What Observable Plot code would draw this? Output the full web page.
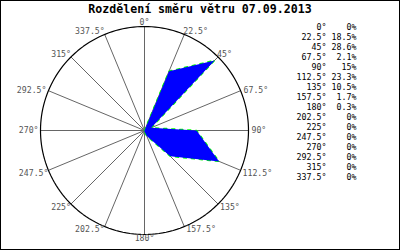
<!DOCTYPE html>
<html><head><meta charset="utf-8">
<script src="https://cdn.jsdelivr.net/npm/d3@7"></script>
<script src="https://cdn.jsdelivr.net/npm/@observablehq/plot@0.6"></script>
<style>
body{margin:0;background:#fff}
#wrap{position:relative;width:400px;height:250px;overflow:hidden;background:#fff}
#wrap svg{position:absolute;top:0;left:0;background:transparent}
#title{position:absolute;left:0;top:2px;width:400px;text-align:center;font:bold 11.6px "DejaVu Sans Mono",monospace;line-height:14px;color:#000}
#border{position:absolute;left:0;top:0;width:400px;height:250px;border:1px solid #000;box-sizing:border-box;pointer-events:none}
</style></head><body>
<div id="wrap"></div>
<script>
const titleText = "Rozdělení směru větru 07.09.2013";
const directions = [0, 22.5, 45, 67.5, 90, 112.5, 135, 157.5, 180, 202.5, 225, 247.5, 270, 292.5, 315, 337.5];
const percents = [0, 18.5, 28.6, 2.1, 15, 23.3, 10.5, 1.7, 0.3, 0, 0, 0, 0, 0, 0, 0];
const directionLabels = ["0°", "22.5°", "45°", "67.5°", "90°", "112.5°", "135°", "157.5°", "180°", "202.5°", "225°", "247.5°", "270°", "292.5°", "315°", "337.5°"];
const percentLabels = ["0%", "18.5%", "28.6%", "2.1%", "15%", "23.3%", "10.5%", "1.7%", "0.3%", "0%", "0%", "0%", "0%", "0%", "0%", "0%"];
const radialMax = 30;

const rad = d => d * Math.PI / 180;
const px = (a, r) => r * Math.sin(rad(a));
const py = (a, r) => r * Math.cos(rad(a));

const rows = directions.map((d, i) => ({dir: d, pct: percents[i], dirLabel: directionLabels[i], pctLabel: percentLabels[i]}));
const ring = d3.range(0, 361, 2);

const k = 104 / radialMax;
const anchorOf = d => d === 0 ? ["middle","bottom",0,-2] : d <= 45 ? ["start","bottom",-1,0] : d <= 90 ? ["start","middle",3,0]
  : d < 180 ? ["start","top",2,0] : d === 180 ? ["middle","top",0,1] : d <= 247.5 ? ["end","top",0,0]
  : d <= 292.5 ? ["end","middle",-2,0] : ["end","bottom",0,0];
const groups = d3.groups(rows, r => anchorOf(r.dir).join("|"));
const font = "DejaVu Sans Mono";

const polar = Plot.plot({
  width: 400, height: 250, margin: 0,
  x: {domain: [-144 / k, 256 / k], axis: null},
  y: {domain: [-120 / k, 130 / k], axis: null},
  marks: [
    Plot.link(rows, {x1: 0, y1: 0, x2: r => px(r.dir, radialMax), y2: r => py(r.dir, radialMax), stroke: "#666", strokeWidth: 1}),
    Plot.line(ring, {x: a => px(a, radialMax), y: a => py(a, radialMax), stroke: "#000", strokeWidth: 1.2}),
    Plot.line(rows, {x: r => px(r.dir, r.pct), y: r => py(r.dir, r.pct), stroke: "#00ff00", strokeWidth: 1.6, strokeDasharray: "3,5", curve: "linear-closed"}),
    Plot.line(rows, {x: r => px(r.dir, r.pct), y: r => py(r.dir, r.pct), fill: "#0000ff", stroke: "none", curve: "linear-closed"}),
    ...groups.map(([key, g]) => {
      const [ta, la, dx, dy] = anchorOf(g[0].dir);
      return Plot.text(g, {x: r => px(r.dir, radialMax), y: r => py(r.dir, radialMax), text: "dirLabel",
        textAnchor: ta, lineAnchor: la, dx, dy, fill: "#555", fontSize: 8.2, fontFamily: font});
    })
  ]
});

const legend = Plot.plot({
  width: 400, height: 250, margin: 0,
  x: {type: "point", domain: ["direction", "percent"], range: [326, 356], padding: 0, axis: null},
  y: {type: "point", domain: directionLabels, range: [24, 180], padding: 0, axis: null},
  marks: [
    Plot.text(rows, {x: () => "direction", y: "dirLabel", text: "dirLabel", textAnchor: "end", fill: "#000", fontSize: 8.3, fontFamily: font}),
    Plot.text(rows, {x: () => "percent", y: "dirLabel", text: "pctLabel", textAnchor: "end", fill: "#000", fontSize: 8.3, fontFamily: font})
  ]
});

const wrap = document.getElementById("wrap");
wrap.append(polar, legend);
const title = document.createElement("div");
title.id = "title";
title.textContent = titleText;
wrap.append(title);
const border = document.createElement("div");
border.id = "border";
wrap.append(border);
</script>
</body></html>
